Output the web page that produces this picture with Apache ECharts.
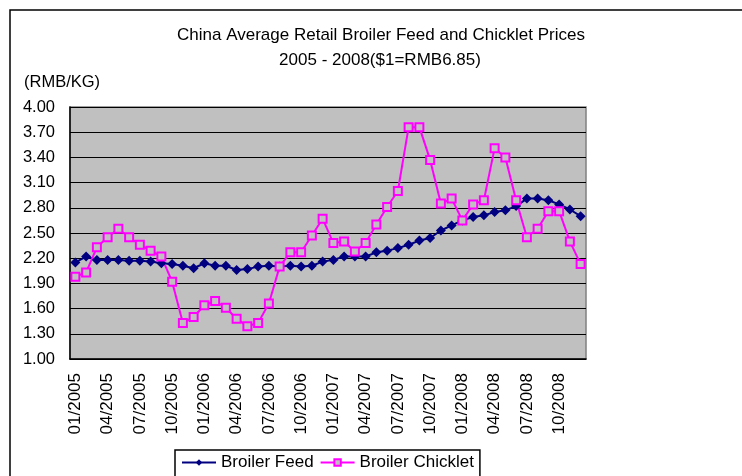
<!DOCTYPE html>
<html>
<head>
<meta charset="utf-8">
<script src="https://cdn.jsdelivr.net/npm/echarts@6/dist/echarts.min.js"></script>
<style>
  html, body { margin: 0; padding: 0; background: #fff; }
  #chart { width: 742px; height: 476px; }
</style>
</head>
<body>
<div id="chart"></div>
<script>
// month labels 01/2005 .. 12/2008
const years = [2005, 2006, 2007, 2008]
const months = ['01', '02', '03', '04', '05', '06', '07', '08', '09', '10', '11', '12']
const categories = []
years.forEach(y => months.forEach(m => categories.push(m + '/' + y)))

// RMB/KG
const broilerFeed = [
  2.15, 2.22, 2.18, 2.18, 2.18, 2.17, 2.17, 2.16, 2.14, 2.13, 2.11, 2.08,
  2.14, 2.11, 2.11, 2.06, 2.07, 2.10, 2.11, 2.10, 2.11, 2.10, 2.11, 2.16,
  2.18, 2.22, 2.22, 2.22, 2.27, 2.29, 2.32, 2.36, 2.41, 2.44, 2.53, 2.59,
  2.65, 2.69, 2.71, 2.75, 2.77, 2.82, 2.91, 2.91, 2.89, 2.84, 2.78, 2.70
]
const broilerChicklet = [
  1.98, 2.03, 2.33, 2.45, 2.55, 2.45, 2.36, 2.29, 2.22, 1.92, 1.43, 1.50,
  1.64, 1.69, 1.61, 1.48, 1.39, 1.43, 1.66, 2.10, 2.27, 2.27, 2.47, 2.67,
  2.38, 2.40, 2.28, 2.38, 2.60, 2.81, 3.00, 3.76, 3.76, 3.37, 2.85, 2.91,
  2.65, 2.84, 2.89, 3.51, 3.40, 2.89, 2.45, 2.55, 2.76, 2.76, 2.40, 2.13
]

const FONT = 'Liberation Sans, Arial, sans-serif'

const chart = echarts.init(document.getElementById('chart'))
chart.setOption({
  animation: false,
  backgroundColor: '#fff',
  textStyle: { fontFamily: FONT },
  graphic: [
    {
      type: 'rect',
      shape: { x: 10, y: 10, width: 800, height: 500 },
      style: { fill: 'none', stroke: '#000', lineWidth: 1.5 },
      silent: true
    },
    {
      type: 'text',
      x: 381, y: 35,
      style: {
        text: 'China Average Retail Broiler Feed and Chicklet Prices',
        font: '17px ' + FONT, fill: '#000', align: 'center', verticalAlign: 'middle'
      }
    },
    {
      type: 'text',
      x: 380, y: 60,
      style: {
        text: '2005 - 2008($1=RMB6.85)',
        font: '17px ' + FONT, fill: '#000', align: 'center', verticalAlign: 'middle'
      }
    },
    {
      type: 'text',
      x: 24, y: 82,
      style: {
        text: '(RMB/KG)',
        font: '16.5px ' + FONT, fill: '#000', align: 'left', verticalAlign: 'middle'
      }
    }
  ],
  grid: {
    left: 70,
    top: 107,
    right: 156,
    bottom: 117,
    show: true,
    backgroundColor: '#c0c0c0',
    borderColor: '#808080',
    borderWidth: 1.5
  },
  legend: {
    left: 175,
    top: 450,
    padding: [4, 6, 10, 6],
    itemGap: 6,
    itemWidth: 34,
    itemHeight: 8,
    borderColor: '#000',
    borderWidth: 1.5,
    textStyle: { fontSize: 17, color: '#000', fontFamily: FONT },
    data: ['Broiler Feed', 'Broiler Chicklet']
  },
  xAxis: {
    type: 'category',
    data: categories,
    boundaryGap: true,
    axisLine: { lineStyle: { color: '#000', width: 1.5 } },
    axisTick: { inside: true, length: 4, interval: 0, lineStyle: { color: '#000' } },
    axisLabel: {
      interval: 2,
      rotate: 90,
      margin: 14,
      fontSize: 17,
      color: '#000',
      fontFamily: FONT
    },
    splitLine: { show: false }
  },
  yAxis: {
    type: 'value',
    min: 1,
    max: 4,
    interval: 0.3,
    axisLine: { show: true, lineStyle: { color: '#000', width: 1.5 } },
    axisTick: { show: false },
    axisLabel: {
      margin: 15,
      fontSize: 16.5,
      color: '#000',
      fontFamily: FONT,
      formatter: v => v.toFixed(2)
    },
    splitLine: { lineStyle: { color: '#000', width: 1 } }
  },
  series: [
    {
      name: 'Broiler Feed',
      type: 'line',
      data: broilerFeed,
      showAllSymbol: true,
      symbol: 'diamond',
      symbolSize: 10,
      itemStyle: { color: '#000080' },
      lineStyle: { color: '#000080', width: 2 }
    },
    {
      name: 'Broiler Chicklet',
      type: 'line',
      data: broilerChicklet,
      showAllSymbol: true,
      symbol: 'rect',
      symbolSize: 8,
      itemStyle: { color: '#c0c0c0', borderColor: '#ff00ff', borderWidth: 2 },
      lineStyle: { color: '#ff00ff', width: 2 }
    }
  ]
})
</script>
</body>
</html>
